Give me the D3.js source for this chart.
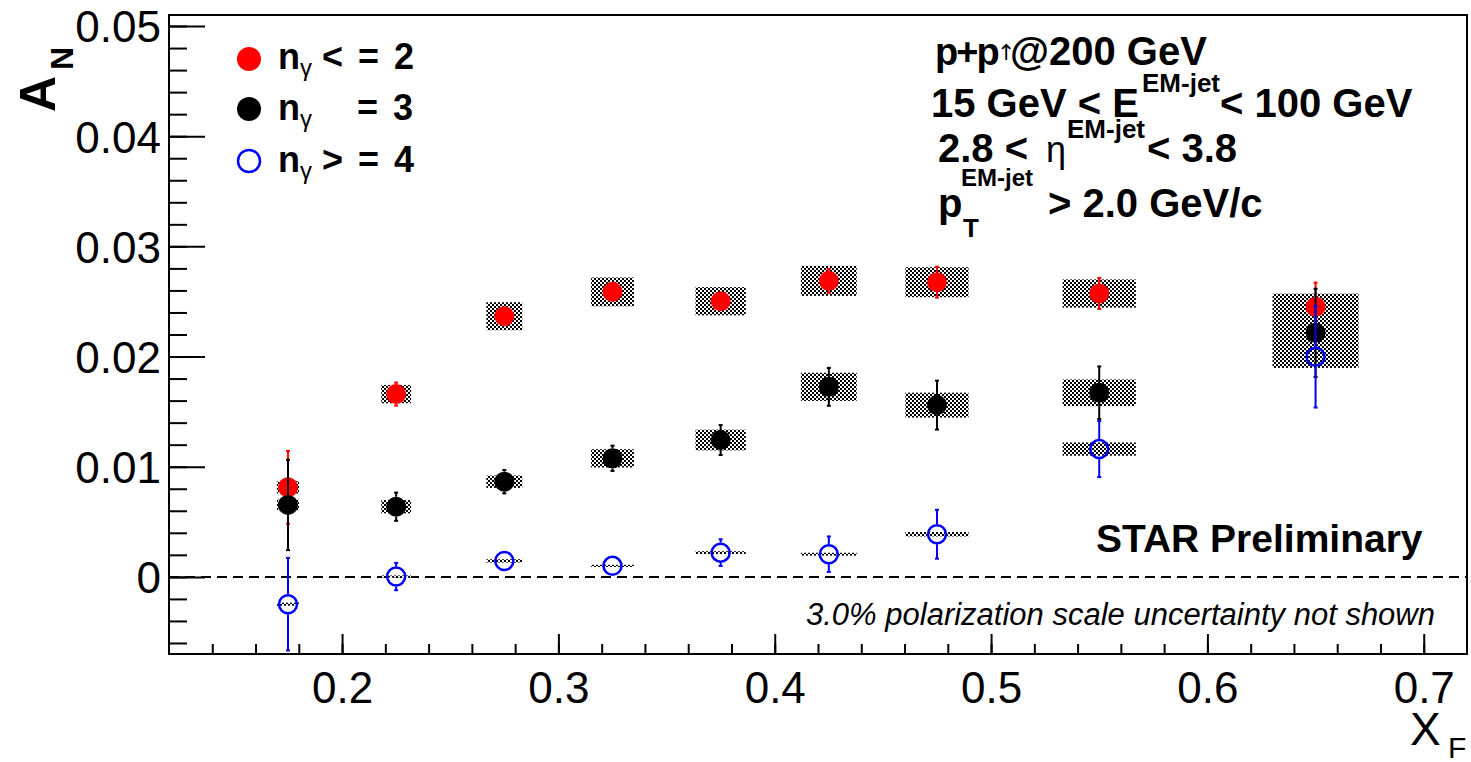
<!DOCTYPE html>
<html>
<head>
<meta charset="utf-8">
<script src="https://cdn.jsdelivr.net/npm/d3@7"></script>
<style>
  body { margin: 0; background: #fff; }
  text { font-family: "Liberation Sans", Arial, Helvetica, sans-serif; }
</style>
</head>
<body>
<script>
// x_F bins and half width of the systematic boxes
var xf = [0.175, 0.225, 0.275, 0.325, 0.375, 0.425, 0.475, 0.55, 0.65];
var boxHalf = [0.0051, 0.0069, 0.0083, 0.0099, 0.0116, 0.0129, 0.0146, 0.0169, 0.0199];

// n_gamma <= 2 (red)
var anLe2   = [0.00813, 0.01659, 0.02366, 0.02587, 0.02502, 0.02687, 0.02675, 0.02572, 0.02451];
var statLe2 = [0.0033, 0.00105, 0.0008, 0.0008, 0.0008, 0.0011, 0.0014, 0.0014, 0.0022];
var sysLe2  = [0.00055, 0.00083, 0.00127, 0.00131, 0.00128, 0.00136, 0.00136, 0.00128, 0.0012];

// n_gamma = 3 (black)
var anEq3   = [0.00653, 0.00637, 0.00864, 0.01076, 0.01242, 0.01725, 0.01559, 0.01671, 0.02215];
var statEq3 = [0.0041, 0.00128, 0.00106, 0.00115, 0.00136, 0.00172, 0.00222, 0.00239, 0.0040];
var sysEq3  = [0.00048, 0.0006, 0.00056, 0.00083, 0.00094, 0.00128, 0.00113, 0.00121, 0.0012];

// n_gamma >= 4 (blue, open)
var anGe4   = [-0.00248, 0.00003, 0.00145, 0.00100, 0.00220, 0.00206, 0.00387, 0.01160, 0.01997];
var statGe4 = [0.0042, 0.00124, 0.0008, 0.0007, 0.00121, 0.00161, 0.00222, 0.00254, 0.0046];
var sysGe4  = [0.00014, 0.0001, 0.00015, 0.0001, 0.00013, 0.00013, 0.0002, 0.0006, 0.001];

// axis ticks
var xMajor = [0.2, 0.3, 0.4, 0.5, 0.6, 0.7];
var xTickLabels = ["0.2", "0.3", "0.4", "0.5", "0.6", "0.7"];
var yMajor = [0, 0.01, 0.02, 0.03, 0.04, 0.05];
var yTickLabels = ["0", "0.01", "0.02", "0.03", "0.04", "0.05"];

var width = 1471, height = 762;
var plotLeft = 169, plotTop = 15, plotW = 1298, plotH = 639;

var x = d3.scaleLinear().domain([0.12, 0.72]).range([plotLeft, plotLeft + plotW]);
var y = d3.scaleLinear().domain([-0.007, 0.051]).range([plotTop + plotH, plotTop]);

var svg = d3.select("body").append("svg")
    .attr("width", width)
    .attr("height", height);

var defs = svg.append("defs");
// fine checker fill like ROOT fill style
var pat = defs.append("pattern")
    .attr("id", "checker")
    .attr("patternUnits", "userSpaceOnUse")
    .attr("width", 4).attr("height", 4);
pat.append("rect").attr("width", 4).attr("height", 4).attr("fill", "#fff");
pat.append("rect").attr("x", 0).attr("y", 0).attr("width", 2).attr("height", 2).attr("fill", "#000");
pat.append("rect").attr("x", 2).attr("y", 2).attr("width", 2).attr("height", 2).attr("fill", "#000");

defs.append("clipPath").attr("id", "frame")
  .append("rect").attr("x", plotLeft).attr("y", plotTop).attr("width", plotW).attr("height", plotH);

// axes ticks (inside)
var yAxis = svg.append("g")
    .attr("transform", "translate(" + plotLeft + ",0)")
    .call(d3.axisLeft(y).tickValues(yMajor).tickSize(-36).tickPadding(8)
          .tickFormat(function(d, i) { return yTickLabels[i]; }));
svg.append("g")
    .attr("transform", "translate(" + plotLeft + ",0)")
    .call(d3.axisLeft(y).tickValues(d3.range(-0.006, 0.0505, 0.002)).tickSize(-18).tickFormat(""));

var xAxis = svg.append("g")
    .attr("transform", "translate(0," + (plotTop + plotH) + ")")
    .call(d3.axisBottom(x).tickValues(xMajor).tickSize(-20).tickPadding(18)
          .tickFormat(function(d, i) { return xTickLabels[i]; }));
svg.append("g")
    .attr("transform", "translate(0," + (plotTop + plotH) + ")")
    .call(d3.axisBottom(x).tickValues(d3.range(0.14, 0.7199, 0.02)).tickSize(-10).tickFormat(""));

svg.selectAll(".domain").remove();
svg.selectAll(".tick line").attr("stroke", "#000").attr("stroke-width", 2);
yAxis.selectAll("text").attr("font-size", 44).attr("dy", "0.36em")
    .style("font-family", "Liberation Sans, Arial, sans-serif");
xAxis.selectAll("text").attr("font-size", 44)
    .style("font-family", "Liberation Sans, Arial, sans-serif");

// zero line
svg.append("line")
    .attr("x1", plotLeft).attr("x2", plotLeft + plotW)
    .attr("y1", y(0)).attr("y2", y(0))
    .attr("stroke", "#000").attr("stroke-width", 2)
    .attr("stroke-dasharray", "10,6");

var plot = svg.append("g").attr("clip-path", "url(#frame)");

var series = [
  { an: anLe2, stat: statLe2, sys: sysLe2, color: "#ff0000", open: false },
  { an: anEq3, stat: statEq3, sys: sysEq3, color: "#000000", open: false },
  { an: anGe4, stat: statGe4, sys: sysGe4, color: "#0000ff", open: true }
];
var r = 10;

// systematic boxes
series.forEach(function(s) {
  plot.append("g").selectAll("rect")
    .data(xf)
    .enter().append("rect")
    .attr("x", function(d, i) { return x(d - boxHalf[i]); })
    .attr("width", function(d, i) { return x(d + boxHalf[i]) - x(d - boxHalf[i]); })
    .attr("y", function(d, i) { return y(s.an[i] + s.sys[i]); })
    .attr("height", function(d, i) { return Math.max(2, y(s.an[i] - s.sys[i]) - y(s.an[i] + s.sys[i])); })
    .attr("fill", "url(#checker)");
});

// stat error bars and markers
series.forEach(function(s) {
  var g = plot.append("g");
  xf.forEach(function(d, i) {
    var cx = x(d), cy = y(s.an[i]);
    var yt = y(s.an[i] + s.stat[i]), yb = y(s.an[i] - s.stat[i]);
    if (cy - yt > r) {
      g.append("line").attr("x1", cx).attr("x2", cx).attr("y1", yt).attr("y2", cy - r)
        .attr("stroke", s.color).attr("stroke-width", 2);
      g.append("line").attr("x1", cx - 2).attr("x2", cx + 2).attr("y1", yt).attr("y2", yt)
        .attr("stroke", s.color).attr("stroke-width", 2);
    }
    if (yb - cy > r) {
      g.append("line").attr("x1", cx).attr("x2", cx).attr("y1", cy + r).attr("y2", yb)
        .attr("stroke", s.color).attr("stroke-width", 2);
      g.append("line").attr("x1", cx - 2).attr("x2", cx + 2).attr("y1", yb).attr("y2", yb)
        .attr("stroke", s.color).attr("stroke-width", 2);
    }
  });
  g.selectAll("circle")
    .data(xf)
    .enter().append("circle")
    .attr("cx", function(d) { return x(d); })
    .attr("cy", function(d, i) { return y(s.an[i]); })
    .attr("r", s.open ? r - 1 : r)
    .attr("fill", s.open ? "none" : s.color)
    .attr("stroke", s.color)
    .attr("stroke-width", s.open ? 2.5 : 0);
});

// frame
svg.append("rect")
    .attr("x", plotLeft).attr("y", plotTop).attr("width", plotW).attr("height", plotH)
    .attr("fill", "none").attr("stroke", "#000").attr("stroke-width", 2);

// axis titles
svg.append("text").attr("transform", "translate(55,112) rotate(-90)")
    .attr("font-size", 50).attr("font-weight", "bold").text("A");
svg.append("text").attr("transform", "translate(73,70) rotate(-90)")
    .attr("font-size", 32).attr("font-weight", "bold").text("N");
svg.append("text").attr("x", 1410).attr("y", 745).attr("font-size", 46).text("X");
svg.append("text").attr("x", 1448).attr("y", 758).attr("font-size", 30).text("F");

// legend
var legendRows = [
  { cy: 59, by: 69, color: "#ff0000", open: false, rest: "< = 2", rx: 322 },
  { cy: 109, by: 120, color: "#000000", open: false, rest: "= 3", rx: 357 },
  { cy: 161, by: 172, color: "#0000ff", open: true, rest: "> = 4", rx: 322 }
];
legendRows.forEach(function(row) {
  svg.append("circle").attr("cx", 249).attr("cy", row.cy).attr("r", row.open ? 11 : 12)
    .attr("fill", row.open ? "none" : row.color)
    .attr("stroke", row.color).attr("stroke-width", row.open ? 2.5 : 0);
  svg.append("text").attr("x", 278).attr("y", row.by)
    .attr("font-size", 36).attr("font-weight", "bold").text("n");
  svg.append("text").attr("x", 300).attr("y", row.by + 7)
    .attr("font-size", 24).text("γ");
  svg.append("text").attr("x", row.rx).attr("y", row.by)
    .attr("font-size", 36).attr("font-weight", "bold").attr("word-spacing", 5).text(row.rest);
});

// info text (top right)
function bold(xp, yp, size, str) {
  return svg.append("text").attr("x", xp).attr("y", yp)
    .attr("font-size", size).attr("font-weight", "bold").text(str);
}
bold(935, 65, 38, "p+p").attr("letter-spacing", -2);
svg.append("text").attr("x", 997).attr("y", 60).attr("font-size", 22)
    .style("font-family", "DejaVu Sans, sans-serif").text("↑");
bold(1010, 65, 40, "@200 GeV");

bold(931, 117, 40, "15 GeV < E");
bold(1142, 92, 26, "EM-jet");
bold(1220, 117, 40, "< 100 GeV");

bold(938, 162, 40, "2.8 <");
svg.append("text").attr("x", 1046).attr("y", 162).attr("font-size", 36).text("η");
bold(1067, 138, 26, "EM-jet");
bold(1147, 162, 40, "< 3.8");

bold(938, 217, 40, "p");
bold(963, 237, 26, "T");
bold(961, 186, 24, "EM-jet");
bold(1048, 217, 40, "> 2.0 GeV/c");

bold(1096, 552, 39, "STAR Preliminary");
svg.append("text").attr("x", 1435).attr("y", 625).attr("text-anchor", "end")
    .attr("font-size", 31).attr("font-style", "italic")
    .text("3.0% polarization scale uncertainty not shown");
</script>
</body>
</html>
